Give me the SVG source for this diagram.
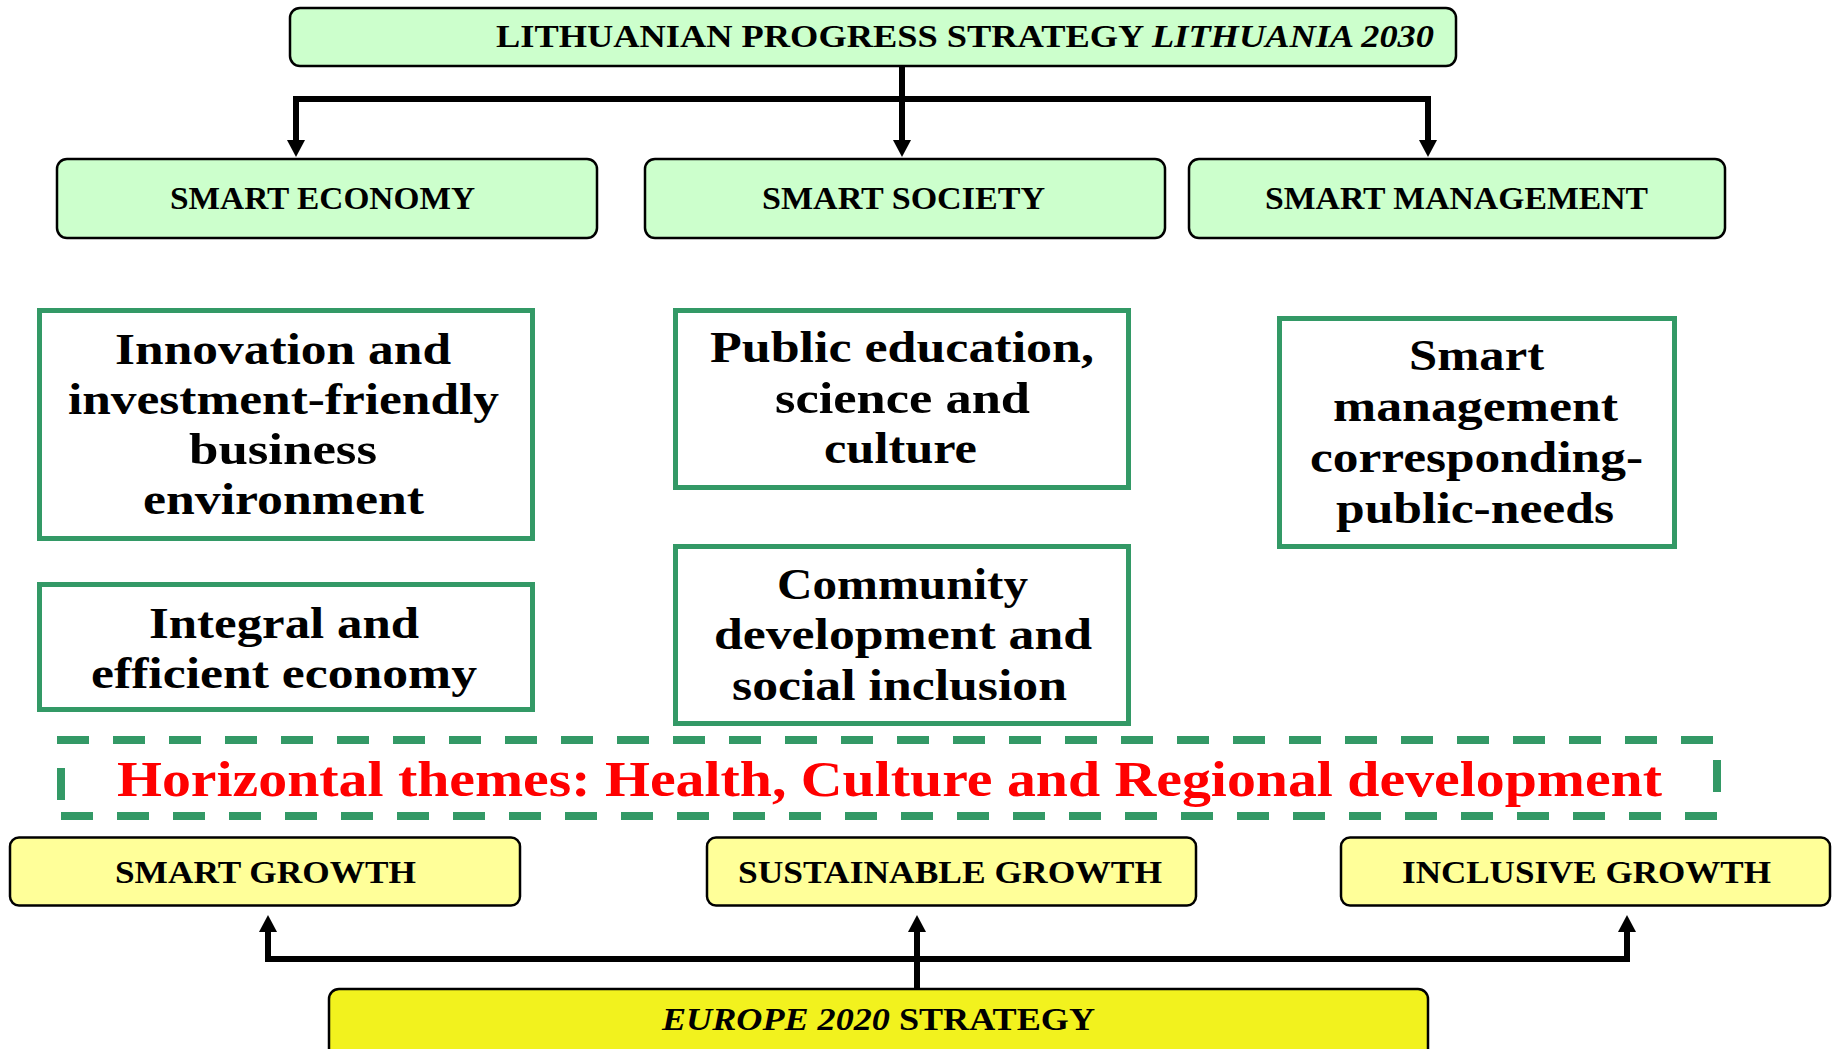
<svg xmlns="http://www.w3.org/2000/svg" width="1837" height="1049" viewBox="0 0 1837 1049">
<style>
.hdr{fill:#ccffcc;stroke:#000;stroke-width:2.5}
.grn{fill:#fff;stroke:#339966;stroke-width:5}
.ylw{fill:#ffff99;stroke:#000;stroke-width:2.5}
.eu{fill:#f2f21e;stroke:#000;stroke-width:2.5}
text{font-family:"Liberation Serif","Times New Roman",serif;font-weight:bold;fill:#000}
.t30{font-size:31px}
.t44{font-size:44px}
.red{font-size:51px;fill:#ff0000}
.conn{fill:none;stroke:#000;stroke-width:6;stroke-linejoin:miter}
.dash{fill:none;stroke:#339966;stroke-width:8;stroke-dasharray:32 24}
.stub{stroke:#339966;stroke-width:8}
</style>
<defs>
<marker id="arr" markerUnits="userSpaceOnUse" markerWidth="20" markerHeight="20" viewBox="0 -10 20 20" refX="1" refY="0" orient="auto-start-reverse">
<path d="M0,-9 L17,0 L0,9 z" fill="#000"/>
</marker>
</defs>
<rect width="1837" height="1049" fill="#fff"/>

<g id="connectors">
<line class="conn" x1="902" y1="67" x2="902" y2="141" marker-end="url(#arr)"/>
<path class="conn" d="M296,141 V99 H1428 V141" marker-start="url(#arr)" marker-end="url(#arr)"/>
<path class="conn" d="M268,931 V959 H1627 V931" marker-start="url(#arr)" marker-end="url(#arr)"/>
<line class="conn" x1="917" y1="988" x2="917" y2="931" marker-end="url(#arr)"/>
</g>

<g id="lithuania2030">
<rect class="hdr" x="290" y="8" width="1166" height="58" rx="10"/>
<text class="t30" x="496" y="47" textLength="938" lengthAdjust="spacingAndGlyphs">LITHUANIAN PROGRESS STRATEGY <tspan font-style="italic">LITHUANIA 2030</tspan></text>
</g>

<g id="smart-economy">
<rect class="hdr" x="57" y="159" width="540" height="79" rx="10"/>
<text class="t30" x="170" y="209" textLength="305" lengthAdjust="spacingAndGlyphs">SMART ECONOMY</text>
</g>
<g id="smart-society">
<rect class="hdr" x="645" y="159" width="520" height="79" rx="10"/>
<text class="t30" x="762" y="209" textLength="283" lengthAdjust="spacingAndGlyphs">SMART SOCIETY</text>
</g>
<g id="smart-management">
<rect class="hdr" x="1189" y="159" width="536" height="79" rx="10"/>
<text class="t30" x="1265" y="209" textLength="383" lengthAdjust="spacingAndGlyphs">SMART MANAGEMENT</text>
</g>

<g id="innovation">
<rect class="grn" x="39.5" y="310.5" width="493" height="228"/>
<text class="t44" x="115" y="364" textLength="336" lengthAdjust="spacingAndGlyphs">Innovation and</text>
<text class="t44" x="68" y="414" textLength="431" lengthAdjust="spacingAndGlyphs">investment-friendly</text>
<text class="t44" x="189" y="464" textLength="188" lengthAdjust="spacingAndGlyphs">business</text>
<text class="t44" x="143" y="514" textLength="281" lengthAdjust="spacingAndGlyphs">environment</text>
</g>
<g id="integral">
<rect class="grn" x="39.5" y="584.5" width="493" height="125"/>
<text class="t44" x="149" y="638" textLength="270" lengthAdjust="spacingAndGlyphs">Integral and</text>
<text class="t44" x="91" y="688" textLength="386" lengthAdjust="spacingAndGlyphs">efficient economy</text>
</g>
<g id="public-education">
<rect class="grn" x="675.5" y="310.5" width="453" height="177"/>
<text class="t44" x="710" y="362" textLength="384" lengthAdjust="spacingAndGlyphs">Public  education,</text>
<text class="t44" x="775" y="413" textLength="255" lengthAdjust="spacingAndGlyphs">science and</text>
<text class="t44" x="824" y="463" textLength="153" lengthAdjust="spacingAndGlyphs">culture</text>
</g>
<g id="community">
<rect class="grn" x="675.5" y="546.5" width="453" height="177"/>
<text class="t44" x="777" y="599" textLength="251" lengthAdjust="spacingAndGlyphs">Community</text>
<text class="t44" x="714" y="649" textLength="378" lengthAdjust="spacingAndGlyphs">development and</text>
<text class="t44" x="732" y="700" textLength="335" lengthAdjust="spacingAndGlyphs">social inclusion</text>
</g>
<g id="smart-mgmt-needs">
<rect class="grn" x="1279.5" y="318.5" width="395" height="228"/>
<text class="t44" x="1409" y="370" textLength="135" lengthAdjust="spacingAndGlyphs">Smart</text>
<text class="t44" x="1333" y="421" textLength="285" lengthAdjust="spacingAndGlyphs">management</text>
<text class="t44" x="1310" y="472" textLength="333" lengthAdjust="spacingAndGlyphs">corresponding-</text>
<text class="t44" x="1336" y="523" textLength="278" lengthAdjust="spacingAndGlyphs">public-needs</text>
</g>

<g id="horizontal-themes">
<line class="dash" x1="57" y1="740" x2="1713" y2="740"/>
<line class="dash" x1="61" y1="816" x2="1717" y2="816"/>
<line class="stub" x1="61" y1="768" x2="61" y2="800"/>
<line class="stub" x1="1717" y1="760" x2="1717" y2="792"/>
<text class="red" x="117" y="796" textLength="1545" lengthAdjust="spacingAndGlyphs">Horizontal themes: Health, Culture and Regional development</text>
</g>

<g id="smart-growth">
<rect class="ylw" x="10" y="837.5" width="510" height="68" rx="9"/>
<text class="t30" x="115" y="883" textLength="301" lengthAdjust="spacingAndGlyphs">SMART GROWTH</text>
</g>
<g id="sustainable-growth">
<rect class="ylw" x="707" y="837.5" width="489" height="68" rx="9"/>
<text class="t30" x="738" y="883" textLength="424" lengthAdjust="spacingAndGlyphs">SUSTAINABLE GROWTH</text>
</g>
<g id="inclusive-growth">
<rect class="ylw" x="1341" y="837.5" width="489" height="68" rx="9"/>
<text class="t30" x="1402" y="883" textLength="369" lengthAdjust="spacingAndGlyphs">INCLUSIVE GROWTH</text>
</g>

<g id="europe2020">
<rect class="eu" x="329" y="989" width="1099" height="80" rx="10"/>
<text class="t30" x="662" y="1030" textLength="433" lengthAdjust="spacingAndGlyphs"><tspan font-style="italic">EUROPE 2020</tspan> STRATEGY</text>
</g>
</svg>
